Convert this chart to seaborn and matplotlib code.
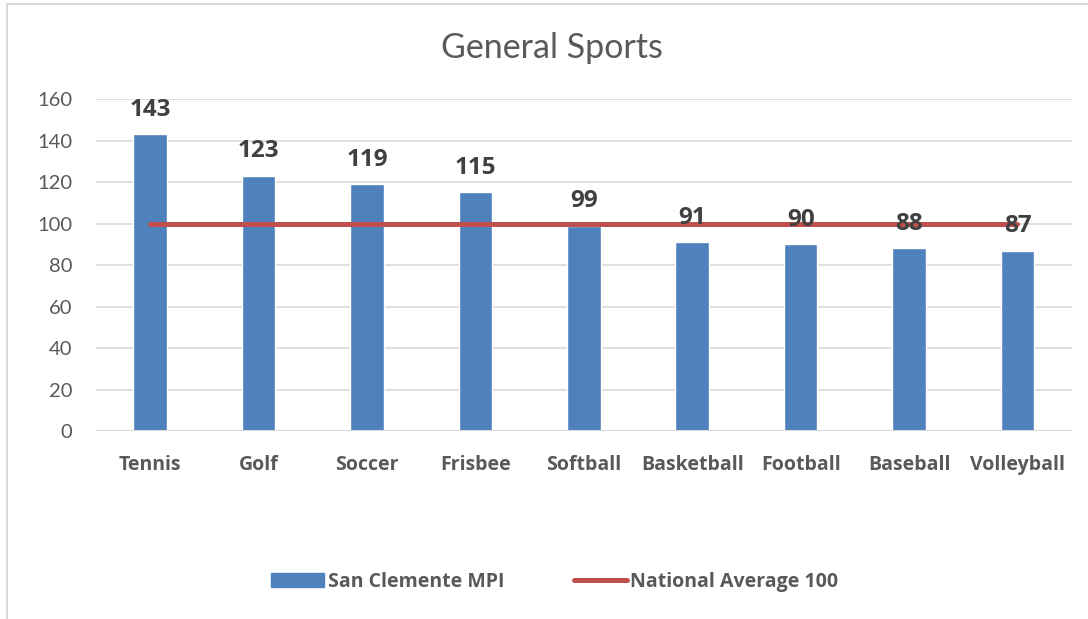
import numpy as np
import pandas as pd
import seaborn as sns
import matplotlib.pyplot as plt
from matplotlib.patches import Rectangle, Patch
from matplotlib.lines import Line2D

# data
sports = ["Tennis", "Golf", "Soccer", "Frisbee", "Softball",
          "Basketball", "Football", "Baseball", "Volleyball"]
mpi = [143, 123, 119, 115, 99, 91, 90, 88, 87]
national_avg = [100] * len(sports)

bar_color = "#4F81BD"
line_color = "#C0504D"
txt_gray = "#595959"
bold_font = ["Open Sans", "DejaVu Sans"]

sns.set_style("white")
plt.rcParams["font.family"] = ["Lato", "DejaVu Sans"]

df = pd.DataFrame({"Sport": sports, "MPI": mpi, "Avg": national_avg})

fig = plt.figure(figsize=(10.88, 6.19), dpi=100)
ax = fig.add_axes([0.0882, 0.3037, 0.8968, 0.5363])

sns.barplot(data=df, x="Sport", y="MPI", color=bar_color, width=0.31,
            saturation=1, ax=ax)
ax.plot(np.arange(len(sports)), df["Avg"], color=line_color, lw=3.6,
        solid_capstyle="round", zorder=3)

# value labels above bars
for i, v in enumerate(mpi):
    ax.text(i, v + 6, str(v), ha="center", va="bottom", fontsize=17.5,
            fontweight="bold", family=bold_font, color="#404040", zorder=4)

ax.set_ylim(0, 160)
ax.set_xlim(-0.5, len(sports) - 0.5)
ax.set_yticks(range(0, 161, 20))
ax.yaxis.grid(True, color="#D9D9D9", lw=1.2)
ax.set_axisbelow(True)
for s in ax.spines.values():
    s.set_visible(False)
ax.axhline(0, color="#D9D9D9", lw=1.5, zorder=1)
ax.set_xlabel("")
ax.set_ylabel("")
ax.tick_params(axis="y", labelsize=14.5, colors=txt_gray, length=0, pad=17)
ax.tick_params(axis="x", length=0, pad=17)
for lab in ax.get_xticklabels():
    lab.set_fontsize(14)
    lab.set_fontweight("bold")
    lab.set_family(bold_font)
    lab.set_color(txt_gray)

fig.text(0.507, 0.922, "General Sports", ha="center", va="center",
         fontsize=24.5, color=txt_gray)

handles = [Patch(color=bar_color), Line2D([0], [0], color=line_color, lw=3.6,
                                          solid_capstyle="round")]
fig.legend(handles, ["San Clemente MPI", "National Average 100"],
           loc="center", bbox_to_anchor=(0.51, 0.06), ncol=2, frameon=False,
           handlelength=2.7, handletextpad=0.2, columnspacing=3.6,
           prop={"size": 14, "weight": "bold", "family": bold_font},
           labelcolor=txt_gray)

# chart border
fig.patches.append(Rectangle((7 / 1088, -0.01), 1.0, 1 - 4 / 619 + 0.01,
                             transform=fig.transFigure, fill=False,
                             edgecolor="#D9D9D9", lw=1.5))

fig.savefig("out.png", dpi=100, facecolor="white")
